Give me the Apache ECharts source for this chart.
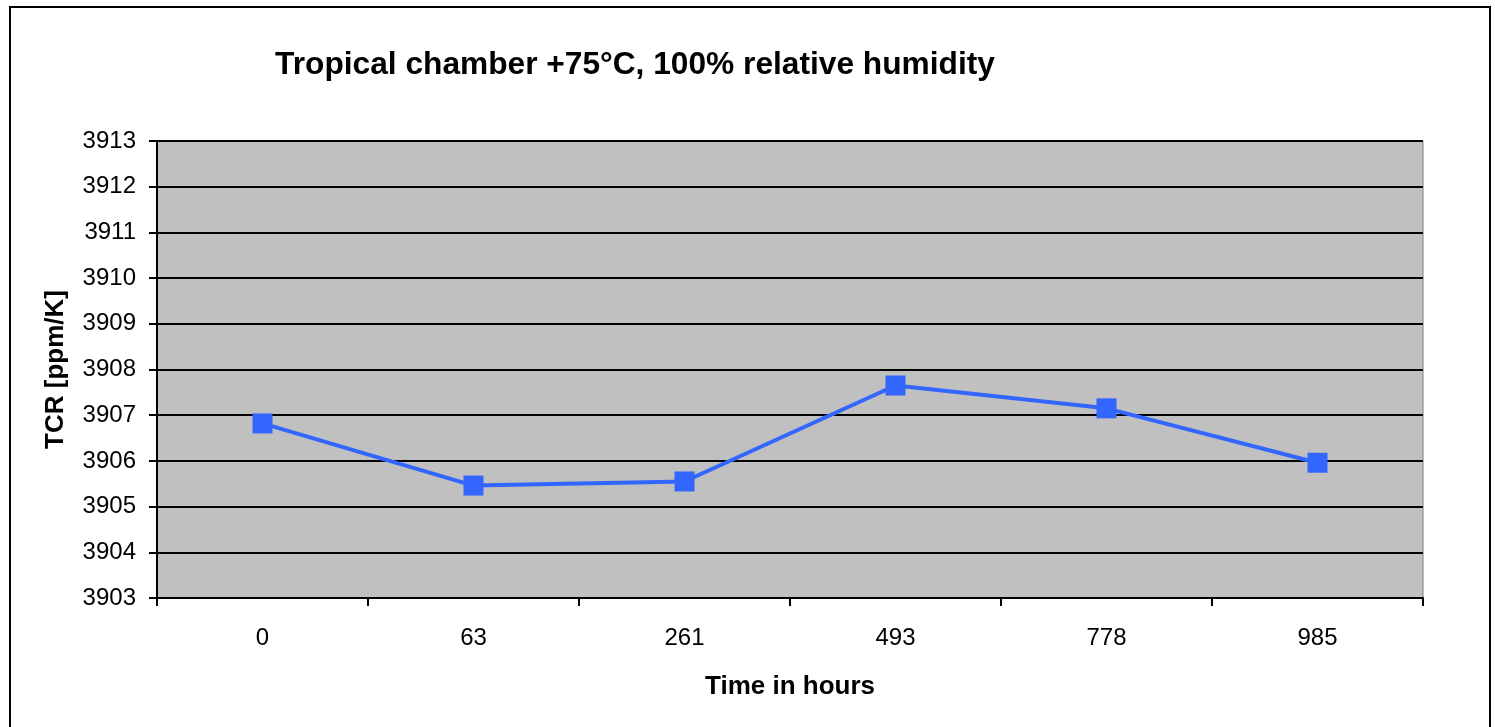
<!DOCTYPE html>
<html><head><meta charset="utf-8">
<script src="https://cdn.jsdelivr.net/npm/echarts@6/dist/echarts.min.js"></script>
<style>html,body{margin:0;padding:0;background:#fff}#c{width:1495px;height:727px}</style>
</head><body><div id="c"></div>
<script>
const categories = ['0', '63', '261', '493', '778', '985'];
const tcrValues = [3906.82, 3905.46, 3905.55, 3907.65, 3907.15, 3905.96];
const yMin = 3903, yMax = 3913, yStep = 1;

const chart = echarts.init(document.getElementById('c'));
const font = '"Liberation Sans", Arial, sans-serif';
chart.setOption({
  animation: false,
  backgroundColor: '#fff',
  title: {
    text: 'Tropical chamber +75°C, 100% relative humidity',
    left: 630, top: 44, textAlign: 'center',
    textStyle: {fontFamily: font, fontSize: 31.7, fontWeight: 'bold', color: '#000'}
  },
  graphic: [{
    type: 'rect', silent: true, z: -1,
    shape: {x: 10, y: 7, width: 1480, height: 740},
    style: {fill: 'none', stroke: '#000', lineWidth: 2}
  }],
  grid: {left: 157, top: 141, right: 72, bottom: 129, show: true,
    backgroundColor: '#C0C0C0', borderColor: '#808080', borderWidth: 1},
  xAxis: {
    type: 'category', data: categories, boundaryGap: true,
    name: 'Time in hours', nameLocation: 'middle', nameGap: 76,
    nameTextStyle: {fontFamily: font, fontSize: 26, fontWeight: 'bold', color: '#000'},
    axisLine: {lineStyle: {color: '#000', width: 2}},
    axisTick: {show: true, length: 8, lineStyle: {color: '#000', width: 2}},
    axisLabel: {fontFamily: font, fontSize: 24, color: '#000', margin: 28},
    splitLine: {show: false}
  },
  yAxis: {
    type: 'value', min: yMin, max: yMax, interval: yStep,
    name: 'TCR [ppm/K]', nameLocation: 'middle', nameGap: 88,
    nameTextStyle: {fontFamily: font, fontSize: 26, fontWeight: 'bold', color: '#000'},
    axisLine: {show: true, lineStyle: {color: '#000', width: 2}},
    axisTick: {show: true, length: 8, lineStyle: {color: '#000', width: 2}},
    axisLabel: {fontFamily: font, fontSize: 24, color: '#000', margin: 21,
      formatter: v => String(v)},
    splitLine: {show: true, lineStyle: {color: '#000', width: 2}}
  },
  series: [{
    type: 'line', data: tcrValues,
    symbol: 'rect', symbolSize: 20,
    itemStyle: {color: '#3366FF'},
    lineStyle: {color: '#3366FF', width: 4}
  }]
});
</script></body></html>
